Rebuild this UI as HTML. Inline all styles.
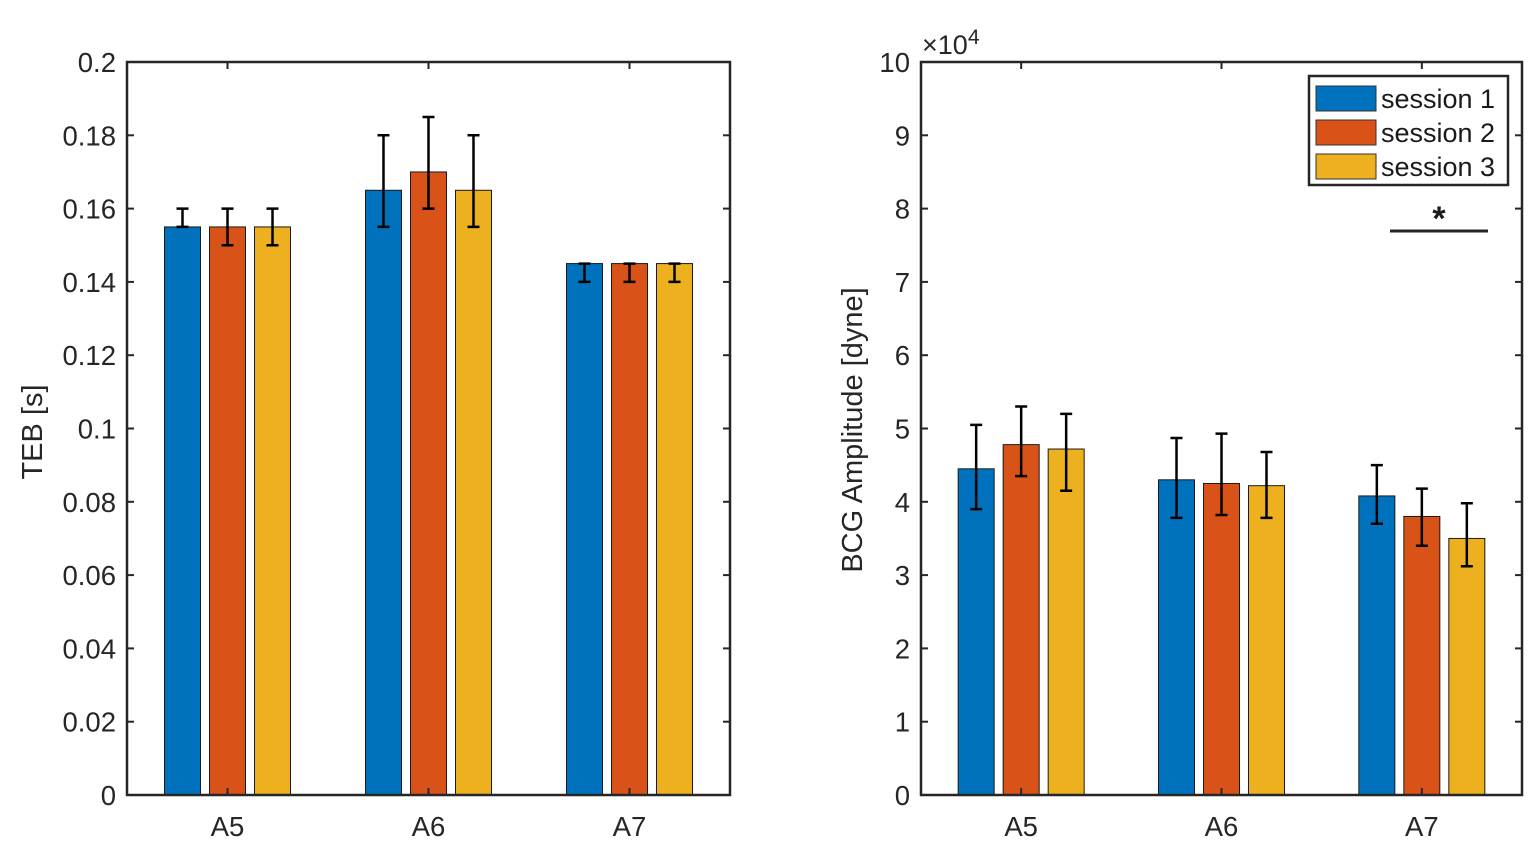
<!DOCTYPE html>
<html><head><meta charset="utf-8"><style>
html,body{margin:0;padding:0;background:#fff;}
svg{display:block;font-family:"Liberation Sans",Arial,sans-serif;}
</style></head><body>
<svg id="chart" width="1535" height="856" viewBox="0 0 1535 856"></svg>
<script>
const categories = ["A5","A6","A7"];
const seriesNames = ["session 1","session 2","session 3"];
const tebValues = [[0.155,0.165,0.145],[0.155,0.17,0.145],[0.155,0.165,0.145]];
const tebLow = [[0.155,0.155,0.14],[0.15,0.16,0.14],[0.15,0.155,0.14]];
const tebHigh = [[0.16,0.18,0.145],[0.16,0.185,0.145],[0.16,0.18,0.145]];
const bcgValues = [[4.45,4.3,4.08],[4.78,4.25,3.8],[4.72,4.22,3.5]];
const bcgLow = [[3.9,3.78,3.7],[4.35,3.82,3.4],[4.15,3.78,3.12]];
const bcgHigh = [[5.05,4.87,4.5],[5.3,4.93,4.18],[5.2,4.68,3.98]];
const tebTicks = ["0","0.02","0.04","0.06","0.08","0.1","0.12","0.14","0.16","0.18","0.2"];
const bcgTicks = ["0","1","2","3","4","5","6","7","8","9","10"];
const colors = ["#0072BD","#D95319","#EDB120"];

const svg = document.getElementById('chart');
const NS = "http://www.w3.org/2000/svg";
function mk(tag, attrs, parent){const e=document.createElementNS(NS,tag);for(const k in attrs)e.setAttribute(k,attrs[k]);(parent||svg).appendChild(e);return e;}

function drawPanel(cfg){
  const g = mk('g',{});
  
  
  const x0=cfg.x0,x1=cfg.x1,y0=62,y1=795;
  const ys=v=>y1-(v-cfg.min)/(cfg.max-cfg.min)*(y1-y0);
  const xs=c=>x0+(c+0.5)/3*(x1-x0);
  cfg.ticks.forEach((t,i)=>{
    const v=cfg.min+i*(cfg.max-cfg.min)/(cfg.ticks.length-1);
    const y=ys(v);
    mk('line',{x1:x0,x2:x0+7,y1:y,y2:y,stroke:'#262626','stroke-width':2},g);
    mk('line',{x1:x1,x2:x1-7,y1:y,y2:y,stroke:'#262626','stroke-width':2},g);
    const tx=mk('text',{x:x0-11,y:y+10,'text-anchor':'end','font-size':27.5,fill:'#262626'},g);
    tx.textContent=t;
    
    
  });
  for(let s=0;s<3;s++){
    for(let c=0;c<3;c++){
      const cx=xs(c)+(s-1)*45;
      const v=cfg.vals[s][c];
      const r=mk('rect',{x:cx-18,y:ys(v),width:36,height:y1-ys(v),fill:colors[s],stroke:'#1a1a1a','stroke-width':1},g);
      
      
      const lo=ys(cfg.lo[s][c]),hi=ys(cfg.hi[s][c]);
      const eb=mk('path',{d:`M${cx} ${lo}V${hi}M${cx-6} ${lo}H${cx+6}M${cx-6} ${hi}H${cx+6}`,stroke:'#000','stroke-width':2.5,fill:'none'},g);
      
      
    }
  }
  categories.forEach((c,i)=>{
    const x=xs(i);
    mk('line',{x1:x,x2:x,y1:y1,y2:y1-7,stroke:'#262626','stroke-width':2},g);
    mk('line',{x1:x,x2:x,y1:y0,y2:y0+7,stroke:'#262626','stroke-width':2},g);
    const t=mk('text',{x:x,y:836,'text-anchor':'middle','font-size':27.5,fill:'#262626'},g);
    t.textContent=c;
    
    
  });
  mk('rect',{x:x0,y:y0,width:x1-x0,height:y1-y0,fill:'none',stroke:'#262626','stroke-width':2.5},g);
  const yl=mk('text',{x:0,y:0,transform:`translate(${cfg.labelX},${cfg.labelY}) rotate(-90)`,'text-anchor':'middle','font-size':29,fill:'#262626'},g);
  yl.textContent=cfg.label;
  
  
}
drawPanel({name:'teb-panel',x0:127,x1:730,min:0,max:0.2,ticks:tebTicks,vals:tebValues,lo:tebLow,hi:tebHigh,label:'TEB [s]',labelX:42,labelY:432});
drawPanel({name:'bcg-panel',x0:921,x1:1522,min:0,max:10,ticks:bcgTicks,vals:bcgValues,lo:bcgLow,hi:bcgHigh,label:'BCG Amplitude [dyne]',labelX:862,labelY:430});

const ex=mk('text',{x:922,y:54,'font-size':27,fill:'#262626'});
ex.innerHTML='×10<tspan dy="-10" font-size="21">4</tspan>';



const lg=mk('g',{});


mk('rect',{x:1309,y:76,width:199,height:109,fill:'#fff',stroke:'#262626','stroke-width':2.5},lg);
seriesNames.forEach((n,i)=>{
  const e=mk('g',{},lg);
  
  
  mk('rect',{x:1316,y:86+i*34,width:60,height:25,fill:colors[i],stroke:'#333','stroke-width':1},e);
  const t=mk('text',{x:1381,y:108+i*34,'font-size':27,fill:'#1a1a1a'},e);
  t.textContent=n;
});
const sl=mk('line',{x1:1390,x2:1488,y1:231,y2:231,stroke:'#262626','stroke-width':3});


const st=mk('text',{x:1439,y:230,'text-anchor':'middle','font-size':34,'font-weight':'bold',fill:'#1a1a1a'});
st.textContent='*';


</script>
</body></html>
